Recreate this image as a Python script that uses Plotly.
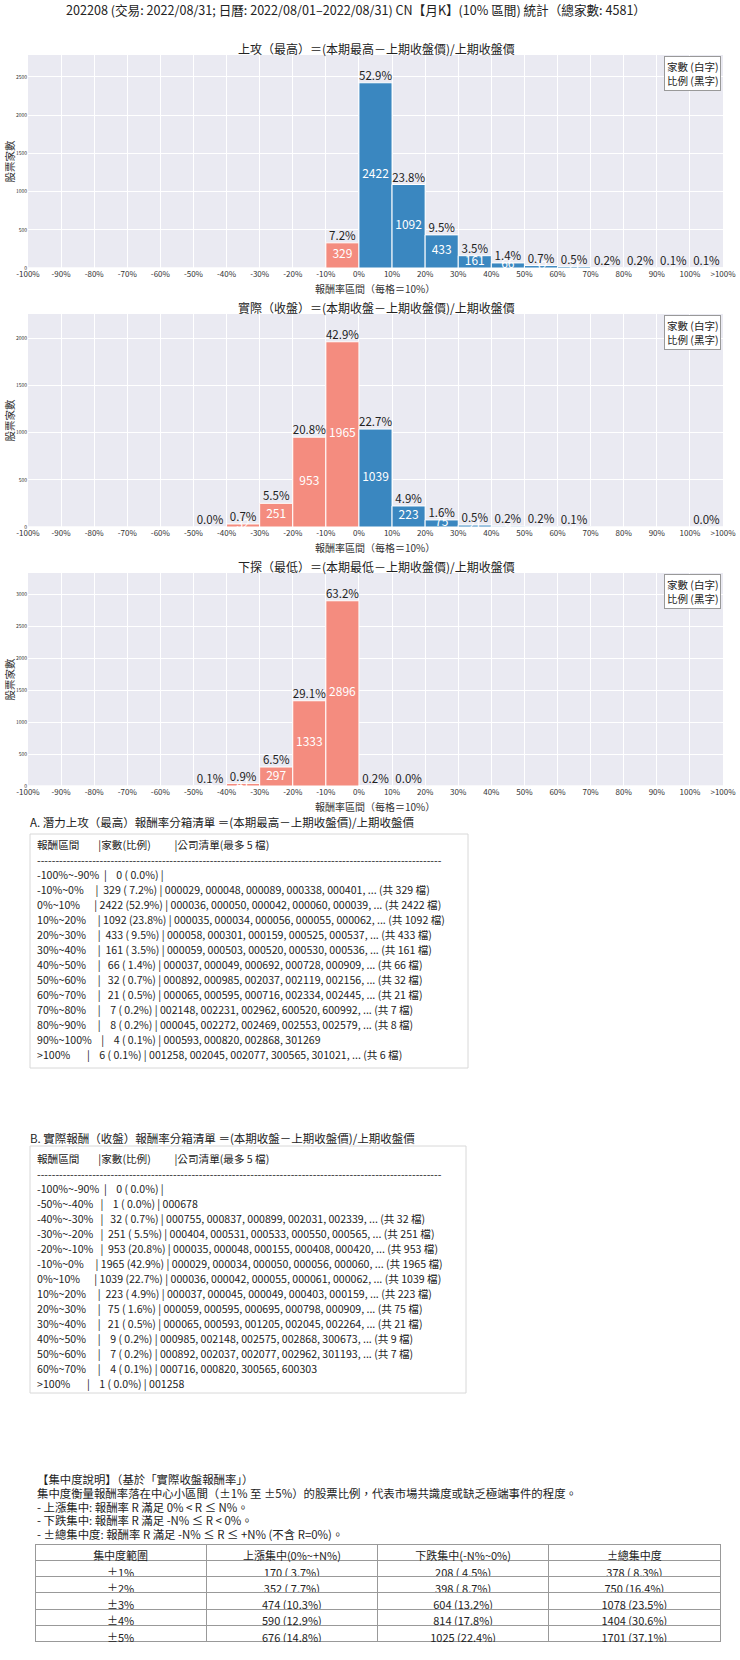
import plotly.graph_objects as go

W, H = 740, 1660
FONT = "Noto Sans CJK TC, Noto Sans, sans-serif"

# ---- data ----
total = 4581
tick_labels = ['-100%', '-90%', '-80%', '-70%', '-60%', '-50%', '-40%', '-30%', '-20%', '-10%', '0%',
               '10%', '20%', '30%', '40%', '50%', '60%', '70%', '80%', '90%', '100%', '>100%']
tick_vals = list(range(-100, 111, 10))

counts_high = [0, 0, 0, 0, 0, 0, 0, 0, 0, 329, 2422, 1092, 433, 161, 66, 32, 21, 7, 8, 4, 6]
counts_close = [0, 0, 0, 0, 0, 1, 32, 251, 953, 1965, 1039, 223, 75, 21, 9, 7, 4, 0, 0, 0, 1]
counts_low = [0, 0, 0, 0, 0, 5, 41, 297, 1333, 2896, 8, 1, 0, 0, 0, 0, 0, 0, 0, 0, 0]

sup_title = "202208 (交易: 2022/08/31; 日曆: 2022/08/01–2022/08/31) CN【月K】(10% 區間) 統計（總家數: 4581）"
chart_titles = ["上攻（最高）＝(本期最高－上期收盤價)/上期收盤價",
                "實際（收盤）＝(本期收盤－上期收盤價)/上期收盤價",
                "下探（最低）＝(本期最低－上期收盤價)/上期收盤價"]

list_a_labels = ['-100%~-90%', '-10%~0%', '0%~10%', '10%~20%', '20%~30%', '30%~40%', '40%~50%',
                 '50%~60%', '60%~70%', '70%~80%', '80%~90%', '90%~100%', '>100%']
list_a_counts = [0, 329, 2422, 1092, 433, 161, 66, 32, 21, 7, 8, 4, 6]
list_a_codes = ["",
                "000029, 000048, 000089, 000338, 000401, ... (共 329 檔)",
                "000036, 000050, 000042, 000060, 000039, ... (共 2422 檔)",
                "000035, 000034, 000056, 000055, 000062, ... (共 1092 檔)",
                "000058, 000301, 000159, 000525, 000537, ... (共 433 檔)",
                "000059, 000503, 000520, 000530, 000536, ... (共 161 檔)",
                "000037, 000049, 000692, 000728, 000909, ... (共 66 檔)",
                "000892, 000985, 002037, 002119, 002156, ... (共 32 檔)",
                "000065, 000595, 000716, 002334, 002445, ... (共 21 檔)",
                "002148, 002231, 002962, 600520, 600992, ... (共 7 檔)",
                "000045, 002272, 002469, 002553, 002579, ... (共 8 檔)",
                "000593, 000820, 002868, 301269",
                "001258, 002045, 002077, 300565, 301021, ... (共 6 檔)"]

list_b_labels = ['-100%~-90%', '-50%~-40%', '-40%~-30%', '-30%~-20%', '-20%~-10%', '-10%~0%', '0%~10%',
                 '10%~20%', '20%~30%', '30%~40%', '40%~50%', '50%~60%', '60%~70%', '>100%']
list_b_counts = [0, 1, 32, 251, 953, 1965, 1039, 223, 75, 21, 9, 7, 4, 1]
list_b_codes = ["",
                "000678",
                "000755, 000837, 000899, 002031, 002339, ... (共 32 檔)",
                "000404, 000531, 000533, 000550, 000565, ... (共 251 檔)",
                "000035, 000048, 000155, 000408, 000420, ... (共 953 檔)",
                "000029, 000034, 000050, 000056, 000060, ... (共 1965 檔)",
                "000036, 000042, 000055, 000061, 000062, ... (共 1039 檔)",
                "000037, 000045, 000049, 000403, 000159, ... (共 223 檔)",
                "000059, 000595, 000695, 000798, 000909, ... (共 75 檔)",
                "000065, 000593, 001205, 002045, 002264, ... (共 21 檔)",
                "000985, 002148, 002575, 002868, 300673, ... (共 9 檔)",
                "000892, 002037, 002077, 002962, 301193, ... (共 7 檔)",
                "000716, 000820, 300565, 600303",
                "001258"]

conc_lines = ["【集中度說明】（基於「實際收盤報酬率」）",
              "集中度衡量報酬率落在中心小區間（±1% 至 ±5%）的股票比例，代表市場共識度或缺乏極端事件的程度。",
              "- 上漲集中: 報酬率 R 滿足 0% < R ≤ N%。",
              "- 下跌集中: 報酬率 R 滿足 -N% ≤ R < 0%。",
              "- ±總集中度: 報酬率 R 滿足 -N% ≤ R ≤ +N% (不含 R=0%)。"]
conc_header = ["集中度範圍", "上漲集中(0%~+N%)", "下跌集中(-N%~0%)", "±總集中度"]
conc_range = ["±1%", "±2%", "±3%", "±4%", "±5%"]
conc_up = [170, 352, 474, 590, 676]
conc_down = [208, 398, 604, 814, 1025]
conc_all = [378, 750, 1078, 1404, 1701]

BLUE = '#3A87C0'
RED = '#F48C7F'


def px(x):
    return x / W


def py(y):
    return 1 - y / H


def nb(s):
    return s.replace(' ', '\u00a0')


fig = go.Figure()
annotations = []
shapes = []

# ---- three histograms ----
plot_tops = [55, 314, 573]
plot_h = 213
centers = [v + 5 for v in tick_vals[:-1]]

for i, counts in enumerate([counts_high, counts_close, counts_low]):
    n = '' if i == 0 else str(i + 1)
    top = plot_tops[i]
    bot = top + plot_h
    colors = [RED if c < 0 else BLUE for c in centers]
    fig.add_trace(go.Bar(x=centers, y=counts, width=10, marker=dict(color=colors, line=dict(color='white', width=1)),
                         xaxis='x' + n, yaxis='y' + n, showlegend=False, hoverinfo='x+y'))
    nz = [k for k, c in enumerate(counts) if c > 0]
    fig.add_trace(go.Scatter(x=[centers[k] for k in nz], y=[counts[k] / 2 for k in nz], mode='text',
                             text=[str(counts[k]) for k in nz], textposition='middle center',
                             textfont=dict(color='white', size=12, family=FONT), cliponaxis=True,
                             xaxis='x' + n, yaxis='y' + n, showlegend=False, hoverinfo='skip'))
    fig.add_trace(go.Scatter(x=[centers[k] for k in nz], y=[counts[k] for k in nz], mode='text',
                             text=[f"{counts[k] / total * 100:.1f}%" for k in nz], textposition='top center',
                             textfont=dict(color='#222', size=11.5, family=FONT), cliponaxis=False,
                             xaxis='x' + n, yaxis='y' + n, showlegend=False, hoverinfo='skip'))
    fig.update_layout(**{
        'xaxis' + n: dict(domain=[px(28), px(723)], range=[-100, 110], anchor='y' + n, automargin=False,
                          tickvals=tick_vals, ticktext=tick_labels, tickfont=dict(size=8, color='#333'),
                          showgrid=True, gridcolor='white', gridwidth=1, zeroline=False, showline=False, ticks=''),
        'yaxis' + n: dict(domain=[py(bot), py(top)], range=[0, max(counts) * 1.15], anchor='x' + n, dtick=500,
                          automargin=False, tickfont=dict(size=5, color='#333'), showgrid=True, gridcolor='white',
                          gridwidth=1, zeroline=False, showline=False, ticks=''),
    })
    annotations.append(dict(x=px(376), y=py(top - 7), xref='paper', yref='paper', text=chart_titles[i],
                            showarrow=False, xanchor='center', yanchor='middle', font=dict(size=12, color='#222')))
    annotations.append(dict(x=px(375), y=py(bot + 20), xref='paper', yref='paper', text='報酬率區間（每格＝10%）',
                            showarrow=False, xanchor='center', yanchor='middle', font=dict(size=10, color='#333')))
    annotations.append(dict(x=px(9), y=py(top + plot_h / 2), xref='paper', yref='paper', text='股票家數',
                            showarrow=False, textangle=-90, xanchor='center', yanchor='middle',
                            font=dict(size=10.5, color='#333')))
    annotations.append(dict(x=px(721), y=py(top + 1), xref='paper', yref='paper',
                            text='家數 (白字)<br>比例 (黑字)', showarrow=False, xanchor='right', yanchor='top',
                            align='left', bgcolor='white', bordercolor='#999', borderwidth=1, borderpad=2,
                            font=dict(size=10.5, color='#222')))

annotations.append(dict(x=px(356), y=py(10), xref='paper', yref='paper', text=sup_title, showarrow=False,
                        xanchor='center', yanchor='middle', font=dict(size=12.6, color='#222')))


# ---- text lists ----
def add_list(title, title_y, box_top, box_bot, box_right, first_y, labels, counts, codes):
    annotations.append(dict(x=px(28), y=py(title_y), xref='paper', yref='paper', text=nb(title), showarrow=False,
                            xanchor='left', yanchor='middle', font=dict(size=11.5, color='#222')))
    shapes.append(dict(type='rect', xref='paper', yref='paper', x0=px(30), x1=px(box_right),
                       y0=py(box_bot), y1=py(box_top), line=dict(color='#d8d8d8', width=1), fillcolor='white',
                       layer='below'))
    rows = [f"{'報酬區間':<12}|家數(比例)          |公司清單(最多 5 檔)", '-' * 110]
    for lab, cnt, cod in zip(labels, counts, codes):
        rows.append(f"{lab:<12}| {cnt:>4} ({cnt / total * 100:>4.1f}%) | {cod}")
    ys = [first_y - 30, first_y - 15] + [first_y + 15 * k for k in range(len(rows) - 2)]
    for y, r in zip(ys, rows):
        annotations.append(dict(x=px(35), y=py(y), xref='paper', yref='paper', text=nb(r), showarrow=False,
                                xanchor='left', yanchor='middle', font=dict(size=10.6, color='#222')))


add_list("A. 潛力上攻（最高）報酬率分箱清單 ＝(本期最高－上期收盤價)/上期收盤價", 822, 834, 1068, 468, 874,
         list_a_labels, list_a_counts, list_a_codes)
add_list("B. 實際報酬（收盤）報酬率分箱清單 ＝(本期收盤－上期收盤價)/上期收盤價", 1138, 1146, 1393, 466, 1188,
         list_b_labels, list_b_counts, list_b_codes)

# ---- concentration ----
for k, line in enumerate(conc_lines):
    annotations.append(dict(x=px(35), y=py(1479 + k * 13.8), xref='paper', yref='paper', text=nb(line),
                            showarrow=False, xanchor='left', yanchor='middle', font=dict(size=11.4, color='#222')))


def fmt(vals):
    return [f"{v} ({v / total * 100:>4.1f}%)" for v in vals]


fig.add_trace(go.Table(
    domain=dict(x=[px(35), px(720)], y=[py(1642), py(1544)]),
    columnwidth=[1, 1, 1, 1],
    header=dict(values=conc_header, height=16.3, fill_color='white', line_color='#999',
                font=dict(size=11, color='#222', family=FONT), align='center'),
    cells=dict(values=[conc_range, fmt(conc_up), fmt(conc_down), fmt(conc_all)], height=16.3,
               fill_color='white', line_color='#999', font=dict(size=11, color='#222', family=FONT),
               align='center'),
))

fig.update_layout(
    width=W, height=H,
    margin=dict(l=0, r=0, t=0, b=0, autoexpand=False),
    paper_bgcolor='white',
    plot_bgcolor='#EAEAF2',
    font=dict(family=FONT, color='#222'),
    annotations=annotations,
    shapes=shapes,
    showlegend=False,
)

fig.write_html("out.html", config={'displayModeBar': False},
               post_script="document.body.style.margin='0';document.body.style.padding='0';"
                           "document.documentElement.style.overflow='hidden';")
